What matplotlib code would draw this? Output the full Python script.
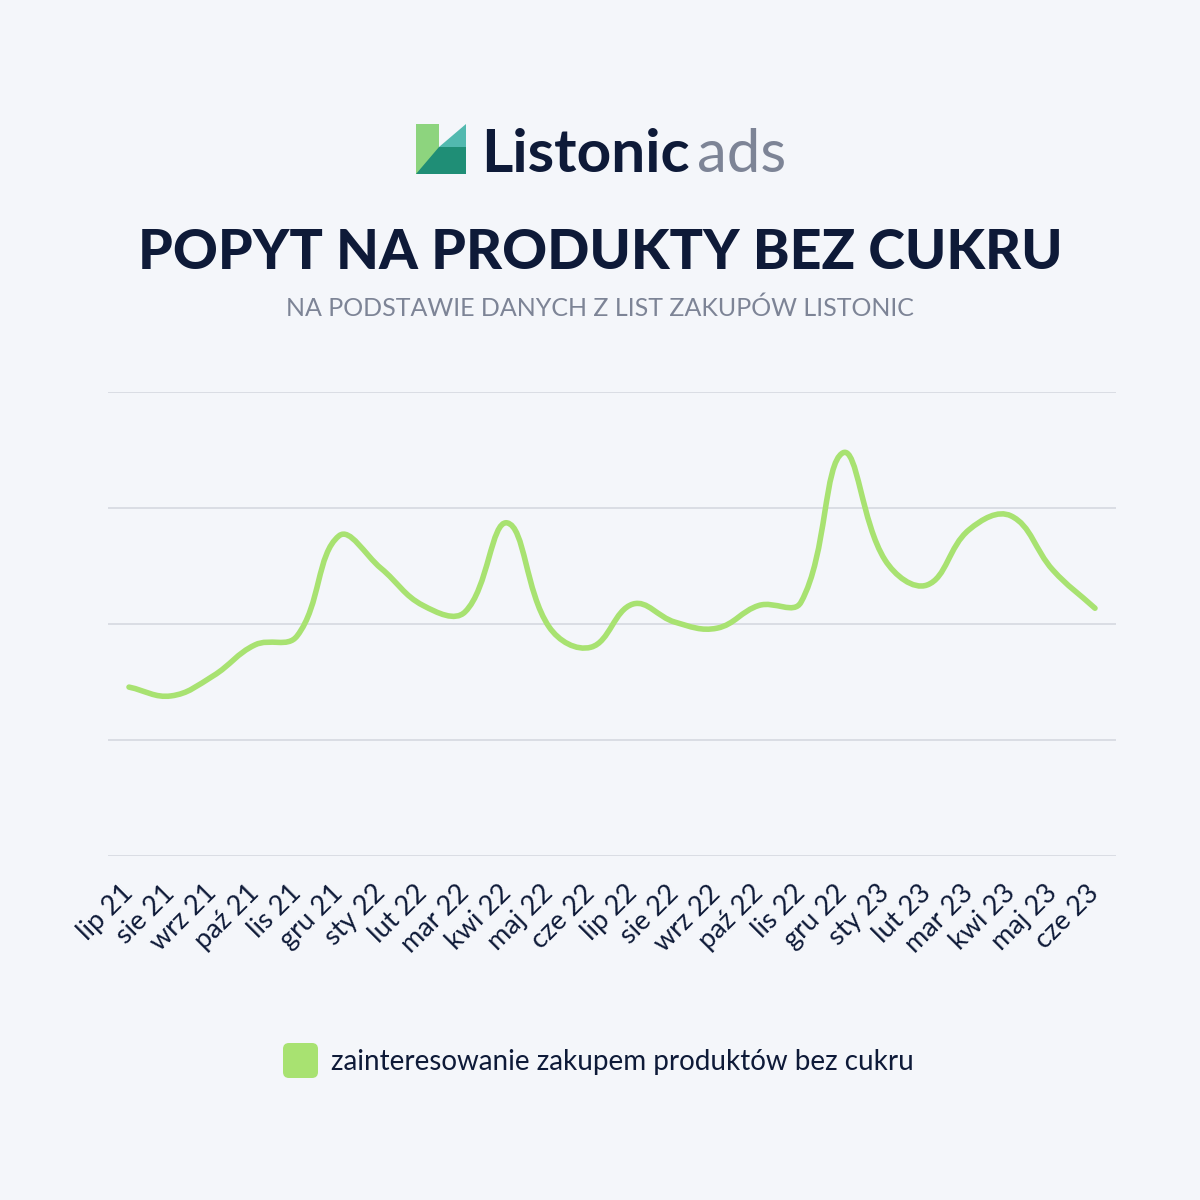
import matplotlib
matplotlib.use("Agg")
import matplotlib.pyplot as plt
import numpy as np
from matplotlib.path import Path
from matplotlib.patches import PathPatch, Polygon, Rectangle, FancyBboxPatch

# dane (skala umowna 0-100)
miesiace = ["lip 21", "sie 21", "wrz 21", "paź 21", "lis 21", "gru 21",
            "sty 22", "lut 22", "mar 22", "kwi 22", "maj 22", "cze 22",
            "lip 22", "sie 22", "wrz 22", "paź 22", "lis 22", "gru 22",
            "sty 23", "lut 23", "mar 23", "kwi 23", "maj 23", "cze 23"]
wartosci = [36.4, 34.5, 38.8, 45.5, 47.4, 69.0,
            62.0, 54.0, 52.6, 71.8, 49.4, 45.0,
            54.3, 50.4, 49.1, 54.0, 54.7, 86.9,
            63.8, 58.4, 70.3, 73.3, 61.6, 53.4]

tlo = "#F4F6FA"
granat = "#0E1A38"
szary = "#7D8496"
zielony = "#A8E271"


def krzywa(xs, ys, sx=42.0, sy=4.64, t=0.4):
    # krzywa beziera jak w chart.js (tension 0.4)
    n = len(xs)
    P = np.column_stack([np.array(xs) * sx, np.array(ys) * sy])
    cp_in = P.copy()
    cp_out = P.copy()
    for i in range(n):
        prev = P[max(i - 1, 0)]
        nxt = P[min(i + 1, n - 1)]
        d01 = np.hypot(*(P[i] - prev))
        d12 = np.hypot(*(nxt - P[i]))
        s = d01 + d12
        if s == 0:
            continue
        fa = t * d01 / s
        fb = t * d12 / s
        cp_in[i] = P[i] - fa * (nxt - prev)
        cp_out[i] = P[i] + fb * (nxt - prev)
    verts = [P[0]]
    codes = [Path.MOVETO]
    for i in range(n - 1):
        verts += [cp_out[i], cp_in[i + 1], P[i + 1]]
        codes += [Path.CURVE4] * 3
    verts = np.array(verts) / [sx, sy]
    return Path(verts, codes)


fig = plt.figure(figsize=(12, 12), dpi=100, facecolor=tlo)


def fx(x):
    return x / 1200


def fy(y):
    return 1 - y / 1200


# logo
logo = fig.add_axes([fx(416), fy(174), 50 / 1200, 50 / 1200])
logo.set_xlim(0, 50)
logo.set_ylim(0, 50)
logo.axis("off")
logo.add_patch(Rectangle((0, 0), 23, 50, color="#8DD47E", lw=0))
logo.add_patch(Polygon([(0, 0), (23, 27), (50, 27), (50, 0)], color="#1F8E76", lw=0))
logo.add_patch(Polygon([(23, 27), (50, 50), (50, 27)], color="#52B9AF", lw=0))

fig.text(fx(481), fy(172), "Listonic", fontsize=43.5, fontweight="bold",
         family="Lato", color=granat, va="baseline", ha="left")
fig.text(fx(786), fy(172), "ads", fontsize=43, family="Lato",
         color=szary, va="baseline", ha="right")

fig.text(0.5, fy(269), "POPYT NA PRODUKTY BEZ CUKRU", fontsize=40,
         fontweight="black", family="Lato", color=granat,
         ha="center", va="baseline")
fig.text(0.5, fy(308), "NA PODSTAWIE DANYCH Z LIST ZAKUPÓW LISTONIC",
         fontsize=18, family="Lato", color=szary, ha="center", va="center")

ax = fig.add_axes([fx(108), fy(856), 1008 / 1200, 464 / 1200])
ax.set_facecolor(tlo)
ax.set_xlim(-0.5, 23.5)
ax.set_ylim(0, 100)
for s in ax.spines.values():
    s.set_visible(False)
ax.set_yticks([0, 25, 50, 75, 100])
ax.set_yticklabels([])
ax.tick_params(axis="y", length=0)
ax.grid(axis="y", color="#D5D8E0", lw=1.2)
ax.set_axisbelow(True)

x = np.arange(len(miesiace))
ax.add_patch(PathPatch(krzywa(x, wartosci), fill=False, edgecolor=zielony,
                       lw=4, capstyle="round", joinstyle="round"))

ax.set_xticks(x)
ax.set_xticklabels(miesiace, rotation=45, ha="right", va="center",
                   rotation_mode="anchor", fontsize=19.5, family="Lato",
                   color=granat)
ax.tick_params(axis="x", length=0, pad=24)

# legenda
fig.patches.append(FancyBboxPatch((fx(283), fy(1078)), 35 / 1200, 35 / 1200,
                                  boxstyle="round,pad=0,rounding_size=0.005",
                                  transform=fig.transFigure, color=zielony,
                                  lw=0))
fig.text(fx(331), fy(1062), "zainteresowanie zakupem produktów bez cukru",
         fontsize=20, family="Lato", color=granat, ha="left", va="center")

fig.savefig("out.png", dpi=100, facecolor=tlo)
